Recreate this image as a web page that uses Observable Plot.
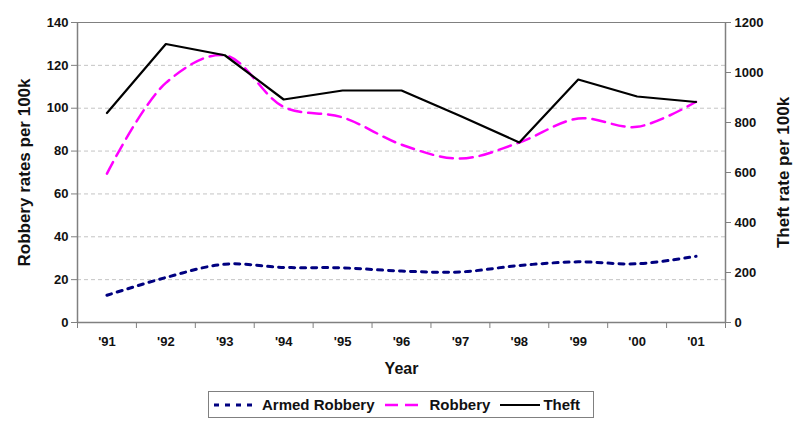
<!DOCTYPE html>
<html>
<head>
<meta charset="utf-8">
<script src="https://cdn.jsdelivr.net/npm/d3@7"></script>
<script src="https://cdn.jsdelivr.net/npm/@observablehq/plot@0.6"></script>
<style>
  html, body { margin: 0; padding: 0; background: #fff; }
  #wrap { position: relative; width: 800px; height: 429px; font-family: "Liberation Sans", Arial, sans-serif; font-weight: bold; }
  #legend { position: absolute; left: 208px; top: 391px; width: 384px; height: 25px; border: 1px solid #808080; display: flex; align-items: center; font-size: 15px; color: #111; box-sizing: content-box; }
  #legend .item { display: flex; align-items: center; }
  #legend svg { display: block; }
</style>
</head>
<body>
<div id="wrap"></div>
<script>
const years = ["'91", "'92", "'93", "'94", "'95", "'96", "'97", "'98", "'99", "'00", "'01"];
const armedRobbery = [12.7, 21, 27.2, 25.7, 25.5, 24, 23.6, 26.6, 28.3, 27.4, 30.9];
const robbery = [69.5, 111.8, 124.7, 100.6, 95.7, 83, 76.5, 84, 95.2, 91.3, 103];
const theft = [838, 1114, 1069, 892, 928, 928, 826, 720, 972, 904, 882];
const leftTicks = [0, 20, 40, 60, 80, 100, 120, 140];
const rightTicks = [0, 200, 400, 600, 800, 1000, 1200];
const gridTicks = [20, 40, 60, 80, 100, 120];
const seriesNames = ["Armed Robbery", "Robbery", "Theft"];

const leftMax = 140, rightMax = 1200;
const toLeft = v => v * leftMax / rightMax;

const rows = years.map((y, i) => ({i: i + 1, year: y, armed: armedRobbery[i], robbery: robbery[i], theft: toLeft(theft[i])}));
const bounds = d3.range(0.5, years.length + 1, 1);

const axisColor = "#808080";
const chart = Plot.plot({
  width: 800,
  height: 380,
  marginLeft: 77,
  marginRight: 75,
  marginTop: 22,
  marginBottom: 58,
  style: {fontFamily: "'Liberation Sans', Arial, sans-serif", fontWeight: "bold", fontSize: "13px", color: "#111", background: "#fff", overflow: "visible"},
  x: {type: "linear", domain: [0.5, years.length + 0.5]},
  y: {domain: [0, leftMax]},
  marks: [
    Plot.ruleY(gridTicks, {stroke: "#c4c4c4", strokeDasharray: "4,3", strokeWidth: 1}),
    Plot.ruleY([leftMax], {stroke: axisColor, strokeWidth: 1}),
    Plot.line(rows, {x: "i", y: "armed", stroke: "#000080", strokeWidth: 3, strokeDasharray: "5,6", curve: "catmull-rom"}),
    Plot.line(rows, {x: "i", y: "robbery", stroke: "#ff00ff", strokeWidth: 2.5, strokeDasharray: "13,7", curve: "catmull-rom"}),
    Plot.line(rows, {x: "i", y: "theft", stroke: "#000", strokeWidth: 2.2}),
    Plot.axisY({anchor: "left", ticks: leftTicks, tickSize: 6, tickPadding: 3, label: null, stroke: axisColor, fill: "#111"}),
    Plot.axisY({anchor: "right", ticks: rightTicks.map(toLeft), tickFormat: d => String(Math.round(d * rightMax / leftMax)), tickSize: 5, tickPadding: 4, label: null, stroke: axisColor, fill: "#111"}),
    Plot.axisX({ticks: rows.map(d => d.i), tickFormat: d => years[d - 1], tickSize: 0, tickPadding: 14, label: null, fill: "#111"}),
    Plot.axisX({ticks: bounds, tickFormat: () => "", tickSize: 6, label: null, stroke: axisColor}),
    Plot.ruleX([0.5, years.length + 0.5], {stroke: axisColor, strokeWidth: 1.5}),
    Plot.ruleY([0], {stroke: axisColor, strokeWidth: 1.5}),
    Plot.text(["Robbery rates per 100k"], {text: d => d, frameAnchor: "left", dx: -53, rotate: -90, textAnchor: "middle", lineAnchor: "middle", fontSize: 17, fontWeight: "bold", fill: "#111"}),
    Plot.text(["Theft rate per 100k"], {text: d => d, frameAnchor: "right", dx: 58, rotate: -90, textAnchor: "middle", lineAnchor: "middle", fontSize: 17, fontWeight: "bold", fill: "#111"}),
    Plot.text(["Year"], {text: d => d, frameAnchor: "bottom", dy: 46, textAnchor: "middle", lineAnchor: "middle", fontSize: 16, fontWeight: "bold", fill: "#111"})
  ]
});
document.getElementById("wrap").appendChild(chart);

const legend = document.createElement("div");
legend.id = "legend";
const swatches = [
  {name: seriesNames[0], stroke: "#000080", w: 3, dash: "5,6", sw: 40, gap: 8, pad: 5},
  {name: seriesNames[1], stroke: "#ff00ff", w: 2.5, dash: "13,7", sw: 40, gap: 5, pad: 10},
  {name: seriesNames[2], stroke: "#000", w: 2.2, dash: null, sw: 40, gap: 3, pad: 10}
];
for (const s of swatches) {
  const item = document.createElement("div");
  item.className = "item";
  item.style.marginLeft = s.pad + "px";
  const svg = d3.create("svg").attr("width", s.sw).attr("height", 10);
  svg.append("line").attr("x1", 0).attr("x2", s.sw).attr("y1", 5).attr("y2", 5)
    .attr("stroke", s.stroke).attr("stroke-width", s.w).attr("stroke-dasharray", s.dash);
  item.appendChild(svg.node());
  const label = document.createElement("span");
  label.textContent = s.name;
  label.style.marginLeft = s.gap + "px";
  item.appendChild(label);
  legend.appendChild(item);
}
document.getElementById("wrap").appendChild(legend);
</script>
</body>
</html>
